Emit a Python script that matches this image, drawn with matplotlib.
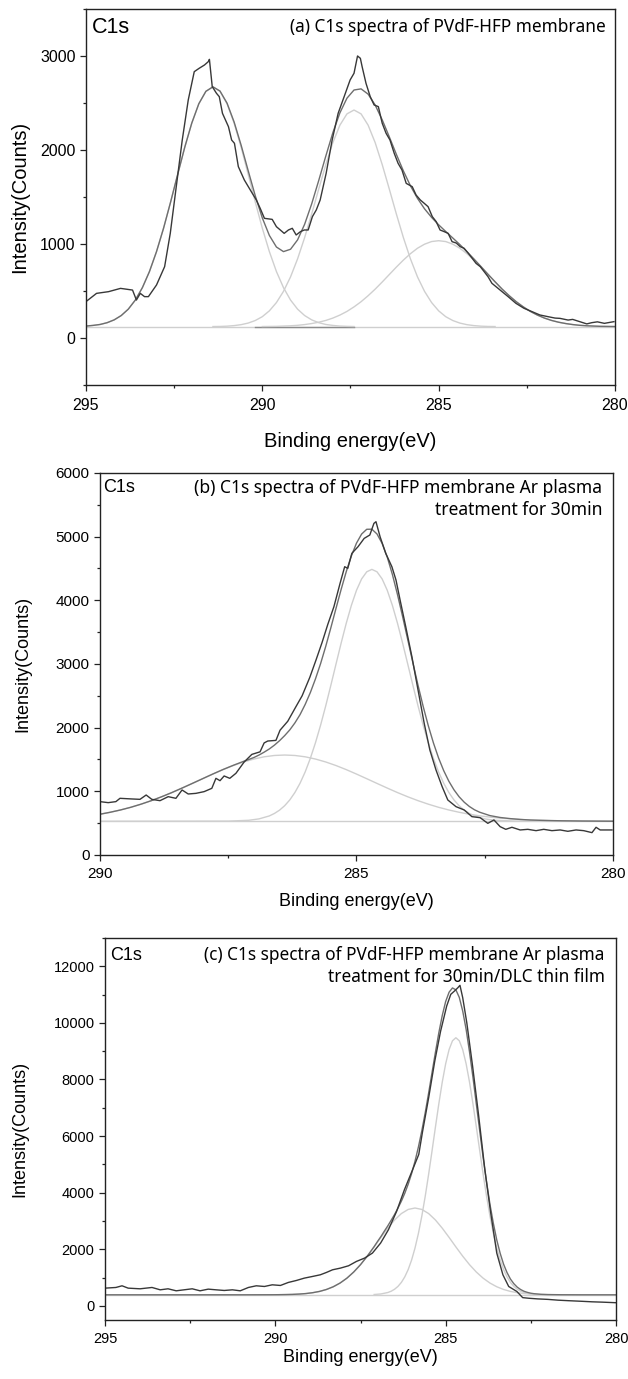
import numpy as np
import matplotlib.pyplot as plt
from matplotlib.ticker import MultipleLocator

plt.rcParams['font.family'] = ['Liberation Sans', 'DejaVu Sans']

# ---------------- (a) PVdF-HFP membrane ----------------
raw_a_ev = [295.0, 294.7, 294.36, 294.02, 293.68, 293.57, 293.46, 293.34, 293.23, 293.0,
            292.77, 292.61, 292.44, 292.27, 292.1, 291.93, 291.79, 291.64, 291.53, 291.5,
            291.42, 291.3, 291.22, 291.13, 290.96, 290.87, 290.79, 290.68, 290.51, 290.34,
            290.17, 290.06, 289.94, 289.72, 289.6, 289.49, 289.38, 289.26, 289.15, 289.04,
            288.92, 288.81, 288.7, 288.58, 288.47, 288.36, 288.19, 288.02, 287.85, 287.68,
            287.51, 287.4, 287.3, 287.22, 287.17, 287.06, 286.94, 286.83, 286.71, 286.6,
            286.49, 286.38, 286.26, 286.15, 286.04, 285.92, 285.75, 285.64, 285.52, 285.41,
            285.3, 285.18, 285.07, 284.96, 284.84, 284.73, 284.62, 284.5, 284.39, 284.28,
            284.16, 284.05, 283.94, 283.82, 283.71, 283.6, 283.49, 283.26, 283.03, 282.81,
            282.58, 282.35, 282.13, 281.9, 281.7, 281.56, 281.33, 281.2, 281.0, 280.8,
            280.66, 280.5, 280.3, 280.03]
raw_a_cnt = [387, 475, 493, 528, 510, 404, 475, 440, 440, 564,
             759, 1113, 1610, 2106, 2532, 2833, 2869, 2904, 2940, 2964,
             2674, 2603, 2567, 2390, 2248, 2106, 2071, 1823, 1681, 1574,
             1468, 1379, 1273, 1262, 1184, 1149, 1113, 1149, 1167, 1096,
             1131, 1149, 1149, 1291, 1362, 1468, 1752, 2106, 2390, 2567,
             2745, 2816, 3000, 2975, 2886, 2709, 2567, 2479, 2461, 2284,
             2177, 2106, 1965, 1858, 1787, 1645, 1610, 1521, 1468, 1433,
             1397, 1291, 1238, 1149, 1131, 1113, 1025, 1010, 972, 955,
             901, 848, 794, 759, 706, 652, 582, 511, 440, 369,
             316, 280, 245, 227, 212, 209, 191, 198, 174, 150,
             163, 172, 156, 174]

env_a_ev = np.round(np.arange(295.0, 279.99, -0.2), 1)
env_a_cnt = [127, 134, 144, 163, 193, 239, 307, 404, 536, 707,
             919, 1168, 1447, 1740, 2028, 2286, 2492, 2624, 2672, 2627,
             2498, 2298, 2050, 1779, 1513, 1277, 1091, 968, 919, 944,
             1044, 1210, 1427, 1676, 1935, 2184, 2395, 2551, 2638, 2650,
             2594, 2478, 2320, 2140, 1954, 1777, 1619, 1485, 1374, 1283,
             1204, 1133, 1064, 994, 919, 841, 760, 678, 598, 520,
             450, 386, 331, 283, 244, 212, 187, 168, 154, 143,
             135, 130, 127, 124, 123, 122]

p1_a_ev = np.round(np.arange(295.0, 287.39, -0.2), 1)
p1_a_cnt = [127, 134, 144, 163, 193, 239, 307, 404, 536, 707,
            919, 1168, 1447, 1740, 2028, 2286, 2492, 2624, 2670, 2624,
            2492, 2286, 2028, 1740, 1447, 1168, 919, 707, 536, 404,
            307, 239, 193, 163, 144, 134, 127, 124, 122]

p2_a_ev = np.round(np.arange(291.4, 283.39, -0.2), 1)
p2_a_cnt = [122, 123, 126, 132, 142, 159, 186, 227, 289, 377,
            496, 650, 842, 1068, 1320, 1585, 1844, 2078, 2264, 2384,
            2425, 2384, 2264, 2078, 1844, 1585, 1320, 1068, 842, 650,
            496, 377, 289, 227, 186, 159, 142, 132, 126, 123, 122]

p3_a_ev = np.round(np.arange(290.0, 279.99, -0.2), 1)
p3_a_cnt = [122, 123, 124, 127, 130, 135, 143, 154, 168, 187,
            212, 244, 283, 331, 386, 450, 520, 596, 675, 754,
            829, 897, 955, 998, 1026, 1035, 1026, 998, 955, 897,
            829, 754, 675, 596, 520, 450, 386, 331, 283, 244,
            212, 187, 168, 154, 143, 135, 130, 127, 124, 123, 122]

base_a_ev = [295.0, 280.0]
base_a_cnt = [120, 120]
seg_a_ev = [290.2, 287.4]
seg_a_cnt = [116, 116]

# ---------------- (b) Ar plasma 30 min ----------------
raw_b_ev = [290.0, 289.84, 289.69, 289.61, 289.38, 289.22, 289.1, 288.99, 288.83, 288.67,
            288.52, 288.4, 288.28, 288.13, 287.97, 287.82, 287.74, 287.66, 287.58, 287.47,
            287.35, 287.19, 287.04, 286.88, 286.8, 286.73, 286.57, 286.49, 286.34, 286.18,
            286.06, 285.91, 285.79, 285.67, 285.56, 285.44, 285.32, 285.23, 285.17, 285.09,
            284.97, 284.85, 284.74, 284.66, 284.62, 284.54, 284.43, 284.31, 284.23, 284.15,
            284.04, 283.92, 283.8, 283.68, 283.57, 283.45, 283.33, 283.22, 283.06, 282.9,
            282.75, 282.59, 282.44, 282.32, 282.2, 282.09, 281.97, 281.81, 281.66, 281.5,
            281.35, 281.19, 281.03, 280.88, 280.72, 280.57, 280.41, 280.33, 280.25, 280.02]
raw_b_cnt = [838, 822, 838, 890, 880, 874, 942, 874, 853, 916,
             890, 1021, 958, 968, 995, 1047, 1204, 1167, 1241, 1204,
             1283, 1460, 1580, 1620, 1760, 1790, 1800, 1960, 2100, 2330,
             2500, 2790, 3060, 3340, 3620, 3900, 4267, 4528, 4502, 4738,
             4842, 4973, 5026, 5209, 5235, 4999, 4738, 4528, 4319, 4005,
             3586, 3115, 2591, 2068, 1649, 1335, 1073, 864, 759, 707,
             602, 586, 497, 550, 445, 403, 435, 393, 403, 382,
             403, 382, 393, 372, 393, 382, 351, 435, 393, 393]

env_b_ev = [290.0, 289.8, 289.6, 289.4, 289.2, 289.0, 288.8, 288.6, 288.4, 288.2,
            288.0, 287.8, 287.6, 287.4, 287.3, 287.2, 287.1, 287.0, 286.9, 286.8,
            286.7, 286.6, 286.5, 286.4, 286.3, 286.2, 286.1, 286.0, 285.9, 285.8,
            285.7, 285.6, 285.5, 285.4, 285.3, 285.2, 285.1, 285.0, 284.9, 284.8,
            284.7, 284.6, 284.5, 284.4, 284.3, 284.2, 284.1, 284.0, 283.9, 283.8,
            283.7, 283.6, 283.5, 283.4, 283.3, 283.2, 283.1, 283.0, 282.9, 282.8,
            282.7, 282.6, 282.4, 282.2, 282.0, 281.8, 281.6, 281.4, 281.2, 281.0,
            280.8, 280.6, 280.4, 280.2, 280.0]
env_b_cnt = [640, 671, 707, 749, 798, 853, 914, 980, 1051, 1124,
             1198, 1272, 1343, 1409, 1440, 1471, 1500, 1531, 1570, 1615,
             1665, 1725, 1795, 1875, 1965, 2075, 2205, 2365, 2550, 2765,
             3005, 3275, 3568, 3871, 4169, 4449, 4697, 4898, 5041, 5116,
             5117, 5042, 4894, 4678, 4406, 4088, 3742, 3380, 3017, 2664,
             2333, 2030, 1760, 1524, 1325, 1159, 1024, 915, 829, 762,
             710, 672, 619, 589, 571, 558, 549, 544, 540, 537,
             535, 533, 532, 531, 530]

big_b_ev = [290.0, 287.5, 287.1, 286.9, 286.7, 286.6, 286.5, 286.4, 286.3, 286.2,
            286.1, 286.0, 285.9, 285.8, 285.7, 285.6, 285.5, 285.4, 285.3, 285.2,
            285.1, 285.0, 284.9, 284.8, 284.7, 284.6, 284.5, 284.4, 284.3, 284.2,
            284.1, 284.0, 283.9, 283.8, 283.7, 283.6, 283.5, 283.4, 283.3, 283.2,
            283.1, 283.0, 282.9, 282.8, 282.7, 282.5, 282.3, 281.9, 280.0]
big_b_cnt = [530, 532, 545, 567, 613, 652, 704, 774, 865, 982,
             1127, 1305, 1517, 1762, 2038, 2341, 2664, 2996, 3325, 3638,
             3920, 4157, 4336, 4448, 4486, 4448, 4336, 4157, 3920, 3638,
             3325, 2996, 2664, 2341, 2038, 1762, 1517, 1305, 1127, 982,
             865, 774, 704, 652, 613, 567, 545, 532, 530]

broad_b_ev = np.round(np.arange(290.0, 279.99, -0.2), 1)
broad_b_cnt = [640, 671, 707, 749, 798, 853, 914, 980, 1051, 1124,
               1198, 1271, 1341, 1405, 1461, 1507, 1542, 1563, 1570, 1563,
               1542, 1507, 1461, 1405, 1341, 1271, 1198, 1124, 1051, 980,
               914, 853, 798, 749, 707, 671, 640, 615, 595, 579,
               567, 557, 549, 544, 540, 537, 535, 533, 532, 531, 530]

base_b_ev = [290.0, 280.0]
base_b_cnt = [530, 530]

# ---------------- (c) Ar plasma 30 min / DLC ----------------
raw_c_ev = [295.0, 294.68, 294.5, 294.32, 293.97, 293.62, 293.38, 293.15, 292.91, 292.68,
            292.44, 292.21, 291.97, 291.74, 291.5, 291.26, 291.03, 290.79, 290.56, 290.32,
            290.09, 289.85, 289.62, 289.38, 289.15, 288.91, 288.68, 288.5, 288.32, 288.09,
            287.85, 287.62, 287.38, 287.15, 286.91, 286.68, 286.44, 286.21, 285.97, 285.79,
            285.68, 285.5, 285.32, 285.15, 284.97, 284.85, 284.74, 284.64, 284.58, 284.5,
            284.38, 284.21, 284.03, 283.85, 283.68, 283.5, 283.32, 283.15, 282.91, 282.74,
            282.56, 282.3, 282.0, 281.7, 281.4, 281.0, 280.7, 280.4, 280.0]
raw_c_cnt = [625, 649, 708, 625, 602, 649, 566, 602, 531, 566,
             602, 531, 590, 566, 543, 566, 531, 649, 708, 684,
             743, 720, 826, 897, 979, 1038, 1097, 1180, 1274, 1333,
             1416, 1569, 1687, 1864, 2218, 2690, 3339, 4106, 4814, 5350,
             6150, 7350, 8650, 9700, 10596, 11009, 11127, 11245, 11328, 10891,
             10006, 8472, 6702, 4814, 3300, 1864, 1097, 684, 507, 290,
             268, 245, 228, 200, 182, 160, 142, 130, 110]

env_c_ev = [295.0, 291.0, 290.1, 289.9, 289.7, 289.5, 289.3, 289.1, 288.9, 288.7,
            288.5, 288.3, 288.1, 287.9, 287.7, 287.5, 287.3, 287.1, 287.0, 286.9,
            286.8, 286.7, 286.6, 286.5, 286.4, 286.3, 286.2, 286.1, 286.0, 285.9,
            285.8, 285.7, 285.6, 285.5, 285.4, 285.3, 285.2, 285.1, 285.0, 284.9,
            284.8, 284.7, 284.6, 284.5, 284.4, 284.3, 284.2, 284.1, 284.0, 283.9,
            283.8, 283.7, 283.6, 283.5, 283.4, 283.3, 283.2, 283.1, 283.0, 282.9,
            282.8, 282.7, 282.6, 282.5, 282.4, 282.2, 282.0, 281.6, 281.0, 280.0]
env_c_cnt = [390, 390, 392, 394, 398, 404, 416, 434, 465, 510,
             578, 674, 805, 977, 1194, 1455, 1758, 2092, 2275, 2449,
             2640, 2824, 3024, 3229, 3455, 3700, 3979, 4300, 4674, 5110,
             5615, 6189, 6828, 7521, 8246, 8966, 9656, 10262, 10757, 11084,
             11235, 11167, 10900, 10420, 9775, 8973, 8086, 7127, 6178, 5237,
             4378, 3587, 2912, 2327, 1855, 1471, 1178, 949, 784, 661,
             576, 514, 475, 446, 428, 407, 398, 392, 390, 390]

big_c_ev = [287.1, 286.9] + list(np.round(np.arange(286.7, 282.69, -0.1), 1)) + [282.5, 282.3]
big_c_cnt = [400, 420,
             470, 516, 586, 687, 829, 1024, 1283, 1619, 2043, 2560,
             3172, 3873, 4650, 5478, 6323, 7148, 7908, 8557, 9055, 9368,
             9475,
             9368, 9055, 8557, 7908, 7148, 6323, 5478, 4650, 3873, 3172,
             2560, 2043, 1619, 1283, 1024, 829, 687, 586, 516, 470,
             420, 400]

broad_c_ev = np.round(np.arange(289.9, 281.89, -0.2), 1)
broad_c_cnt = [394, 398, 404, 416, 434, 465, 510, 578, 674, 805,
               977, 1194, 1455, 1755, 2082, 2419, 2744, 3033, 3261, 3407,
               3457, 3407, 3261, 3033, 2744, 2419, 2082, 1755, 1455, 1194,
               977, 805, 674, 578, 510, 465, 434, 416, 404, 398, 394]

base_c_ev = [295.0, 280.0]
base_c_cnt = [390, 390]

RAW = '#383838'
ENV = '#6e6e6e'
COMP = '#cfcfcf'
TITLE_FONT = ['Noto Sans', 'DejaVu Sans']

fig = plt.figure(figsize=(6.28, 13.79), dpi=100)


def style_axis(ax, xlim, ylim, xmaj, ymaj, ymin, tick_fs, label_fs, xlab_y, ylab_x, xpad):
    ax.set_xlim(*xlim)
    ax.set_ylim(*ylim)
    ax.xaxis.set_major_locator(MultipleLocator(xmaj))
    ax.xaxis.set_minor_locator(MultipleLocator(xmaj / 2))
    ax.yaxis.set_major_locator(MultipleLocator(ymaj))
    ax.yaxis.set_minor_locator(MultipleLocator(ymin))
    ax.tick_params(which='both', direction='out', top=False, right=False, width=0.9,
                   labelsize=tick_fs, color='#222222')
    ax.tick_params(which='major', length=4.5, pad=3)
    ax.tick_params(axis='x', which='major', pad=xpad)
    ax.tick_params(which='minor', length=2.5)
    for s in ax.spines.values():
        s.set_linewidth(1.0)
        s.set_color('#222222')
    ax.set_xlabel('Binding energy(eV)', fontsize=label_fs)
    ax.set_ylabel('Intensity(Counts)', fontsize=label_fs)
    ax.xaxis.set_label_coords(0.5, xlab_y)
    ax.yaxis.set_label_coords(ylab_x, 0.5)


# (a)
ax1 = fig.add_axes([0.1369, 0.7208, 0.8424, 0.2727])
ax1.plot(base_a_ev, base_a_cnt, color=COMP, lw=1.0)
ax1.plot(seg_a_ev, seg_a_cnt, color='#8c8c8c', lw=1.0)
ax1.plot(p1_a_ev, p1_a_cnt, color=COMP, lw=1.0)
ax1.plot(p2_a_ev, p2_a_cnt, color=COMP, lw=1.0)
ax1.plot(p3_a_ev, p3_a_cnt, color=COMP, lw=1.0)
ax1.plot(env_a_ev, env_a_cnt, color=ENV, lw=1.0)
ax1.plot(raw_a_ev, raw_a_cnt, color=RAW, lw=1.0)
style_axis(ax1, (295, 280), (-500, 3500), 5, 1000, 500, 11.5, 14.5, -0.125, -0.108, 5)
ax1.set_yticks([0, 1000, 2000, 3000])
ax1.text(0.011, 0.952, 'C1s', transform=ax1.transAxes, fontsize=15.5, va='center', ha='left')
ax1.text(0.983, 0.952, '(a) C1s spectra of PVdF-HFP membrane', transform=ax1.transAxes,
         fontsize=12.4, va='center', ha='right', family=TITLE_FONT)

# (b)
ax2 = fig.add_axes([0.1592, 0.38, 0.8169, 0.2770])
ax2.plot(base_b_ev, base_b_cnt, color=COMP, lw=1.0)
ax2.plot(big_b_ev, big_b_cnt, color=COMP, lw=1.0)
ax2.plot(broad_b_ev, broad_b_cnt, color=COMP, lw=1.0)
ax2.plot(env_b_ev, env_b_cnt, color=ENV, lw=1.0)
ax2.plot(raw_b_ev, raw_b_cnt, color=RAW, lw=1.0)
style_axis(ax2, (290, 280), (0, 6000), 5, 1000, 500, 11, 13, -0.0995, -0.1345, 4)
ax2.text(0.006, 0.961, 'C1s', transform=ax2.transAxes, fontsize=13, va='center', ha='left')
ax2.text(0.979, 0.961, '(b) C1s spectra of PVdF-HFP membrane Ar plasma', transform=ax2.transAxes,
         fontsize=12.6, va='center', ha='right', family=TITLE_FONT)
ax2.text(0.979, 0.903, 'treatment for 30min', transform=ax2.transAxes,
         fontsize=12.6, va='center', ha='right', family=TITLE_FONT)

# (c)
ax3 = fig.add_axes([0.1672, 0.0428, 0.8137, 0.2770])
ax3.plot(base_c_ev, base_c_cnt, color=COMP, lw=1.0)
ax3.plot(big_c_ev, big_c_cnt, color=COMP, lw=1.0)
ax3.plot(broad_c_ev, broad_c_cnt, color=COMP, lw=1.0)
ax3.plot(env_c_ev, env_c_cnt, color=ENV, lw=1.0)
ax3.plot(raw_c_ev, raw_c_cnt, color=RAW, lw=1.0)
style_axis(ax3, (295, 280), (-500, 13000), 5, 2000, 1000, 10.5, 13, -0.076, -0.149, 4)
ax3.set_yticks([0, 2000, 4000, 6000, 8000, 10000, 12000])
ax3.text(0.01, 0.955, 'C1s', transform=ax3.transAxes, fontsize=13, va='center', ha='left')
ax3.text(0.978, 0.955, '(c) C1s spectra of PVdF-HFP membrane Ar plasma', transform=ax3.transAxes,
         fontsize=12.4, va='center', ha='right', family=TITLE_FONT)
ax3.text(0.978, 0.898, 'treatment for 30min/DLC thin film', transform=ax3.transAxes,
         fontsize=12.4, va='center', ha='right', family=TITLE_FONT)

fig.savefig('out.png', dpi=100)
